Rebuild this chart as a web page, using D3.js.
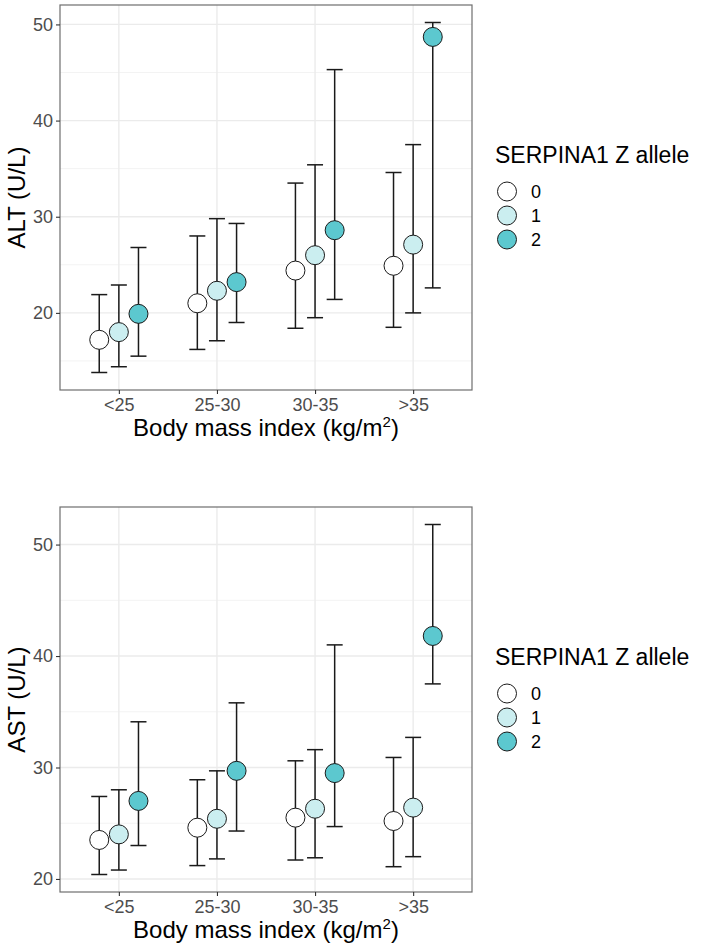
<!DOCTYPE html>
<html>
<head>
<meta charset="utf-8">
<script src="https://cdn.jsdelivr.net/npm/d3@7"></script>
<style>
  html, body { margin: 0; padding: 0; background: #ffffff; }
  svg { display: block; font-family: "Liberation Sans", Arial, Helvetica, sans-serif; }
</style>
</head>
<body>
<svg id="chart" width="709" height="948"></svg>
<script>
// ---- Data ----
const categories = ["<25", "25-30", "30-35", ">35"];
const alleles = ["0", "1", "2"];
const alleleColors = ["#ffffff", "#cbeef0", "#5cc8cf"];

// ALT (U/L): point estimates and interval bounds, by allele (rows) x BMI category (cols)
const altMean  = [[17.2, 21.0, 24.4, 24.9], [18.0, 22.3, 26.0, 27.1], [19.9, 23.2, 28.6, 48.7]];
const altLower = [[13.8, 16.2, 18.4, 18.5], [14.4, 17.1, 19.5, 20.0], [15.5, 19.0, 21.4, 22.6]];
const altUpper = [[21.9, 28.0, 33.5, 34.6], [22.9, 29.8, 35.4, 37.5], [26.8, 29.3, 45.3, 50.2]];

// AST (U/L)
const astMean  = [[23.5, 24.6, 25.5, 25.2], [24.0, 25.4, 26.3, 26.4], [27.0, 29.7, 29.5, 41.8]];
const astLower = [[20.4, 21.2, 21.7, 21.1], [20.8, 21.8, 21.9, 22.0], [23.0, 24.3, 24.7, 37.5]];
const astUpper = [[27.4, 28.9, 30.6, 30.9], [28.0, 29.7, 31.6, 32.7], [34.1, 35.8, 41.0, 51.8]];

const yTicks = [20, 30, 40, 50];
const legendTitle = "SERPINA1 Z allele";

// ---- Drawing ----
const svg = d3.select("#chart");

function flatten(mean, lower, upper) {
  const rows = [];
  alleles.forEach((a, ai) => {
    categories.forEach((c, ci) => {
      rows.push({ allele: a, ai, cat: c, mean: mean[ai][ci], lo: lower[ai][ci], hi: upper[ai][ci] });
    });
  });
  return rows;
}

function drawPanel(opts) {
  const { top, bottom, left, right, mean, lower, upper, yLabel, legendY } = opts;
  const rows = flatten(mean, lower, upper);
  const g = svg.append("g");

  const x = d3.scalePoint().domain(categories).range([left, right]).padding(0.6);
  const step = x.step();
  const dodge = d3.scalePoint().domain(alleles).range([-0.2 * step, 0.2 * step]);

  const lo = d3.min(rows, d => d.lo), hi = d3.max(rows, d => d.hi);
  const pad = (hi - lo) * 0.05;
  const y = d3.scaleLinear().domain([lo - pad, hi + pad]).range([bottom, top]);

  const color = d3.scaleOrdinal().domain(alleles).range(alleleColors);

  // minor grid
  const minor = [];
  for (let v = 15; v <= 55; v += 10) minor.push(v);
  g.append("g").selectAll("line").data(minor.filter(v => y(v) > top && y(v) < bottom)).join("line")
    .attr("x1", left).attr("x2", right)
    .attr("y1", d => y(d)).attr("y2", d => y(d))
    .attr("stroke", "#f3f3f3").attr("stroke-width", 1);
  // major grid
  g.append("g").selectAll("line").data(yTicks).join("line")
    .attr("x1", left).attr("x2", right)
    .attr("y1", d => y(d)).attr("y2", d => y(d))
    .attr("stroke", "#ebebeb").attr("stroke-width", 1.4);
  g.append("g").selectAll("line").data(categories).join("line")
    .attr("y1", top).attr("y2", bottom)
    .attr("x1", d => x(d)).attr("x2", d => x(d))
    .attr("stroke", "#ebebeb").attr("stroke-width", 1.4);

  // error bars
  const capHalf = 8;
  const eb = g.append("g").selectAll("g").data(rows).join("g")
    .attr("transform", d => `translate(${x(d.cat) + dodge(d.allele)},0)`);
  eb.append("line").attr("x1", 0).attr("x2", 0)
    .attr("y1", d => y(d.lo)).attr("y2", d => y(d.hi))
    .attr("stroke", "#1a1a1a").attr("stroke-width", 1.5);
  eb.append("line").attr("x1", -capHalf).attr("x2", capHalf)
    .attr("y1", d => y(d.hi)).attr("y2", d => y(d.hi))
    .attr("stroke", "#1a1a1a").attr("stroke-width", 1.5);
  eb.append("line").attr("x1", -capHalf).attr("x2", capHalf)
    .attr("y1", d => y(d.lo)).attr("y2", d => y(d.lo))
    .attr("stroke", "#1a1a1a").attr("stroke-width", 1.5);

  // points
  g.append("g").selectAll("circle").data(rows).join("circle")
    .attr("cx", d => x(d.cat) + dodge(d.allele))
    .attr("cy", d => y(d.mean))
    .attr("r", 9.5)
    .attr("fill", d => color(d.allele))
    .attr("stroke", "#1a1a1a").attr("stroke-width", 1);

  // panel border
  g.append("rect").attr("x", left).attr("y", top)
    .attr("width", right - left).attr("height", bottom - top)
    .attr("fill", "none").attr("stroke", "#6e6e6e").attr("stroke-width", 1.2);

  // axes
  const yAxis = d3.axisLeft(y).tickValues(yTicks).tickSize(4).tickPadding(3);
  const ya = g.append("g").attr("transform", `translate(${left},0)`).call(yAxis);
  ya.select(".domain").remove();
  ya.selectAll(".tick line").attr("stroke", "#333").attr("stroke-width", 1.1);
  ya.selectAll(".tick text").attr("fill", "#4d4d4d").style("font-size", "18px")
    .style("font-family", "'Liberation Sans', Arial, sans-serif");

  const xAxis = d3.axisBottom(x).tickSize(4).tickPadding(4);
  const xa = g.append("g").attr("transform", `translate(0,${bottom})`).call(xAxis);
  xa.select(".domain").remove();
  xa.selectAll(".tick line").attr("stroke", "#333").attr("stroke-width", 1.1);
  xa.selectAll(".tick text").attr("fill", "#4d4d4d").style("font-size", "18px")
    .style("font-family", "'Liberation Sans', Arial, sans-serif");

  // axis titles
  const xt = g.append("text")
    .attr("x", (left + right) / 2).attr("y", bottom + 46)
    .attr("text-anchor", "middle").attr("fill", "#000").style("font-size", "24px");
  xt.append("tspan").text("Body mass index (kg/m");
  xt.append("tspan").attr("dy", -9).style("font-size", "15px").text("2");
  xt.append("tspan").attr("dy", 9).text(")");

  g.append("text")
    .attr("transform", `translate(${left - 35},${(top + bottom) / 2}) rotate(-90)`)
    .attr("text-anchor", "middle").attr("fill", "#000").style("font-size", "24px")
    .text(yLabel);

  // legend
  const lg = svg.append("g").attr("transform", `translate(495,${legendY})`);
  lg.append("text").attr("x", 0).attr("y", 0).attr("fill", "#000")
    .style("font-size", "23px").text(legendTitle);
  const items = lg.selectAll("g.item").data(alleles).join("g").attr("class", "item")
    .attr("transform", (d, i) => `translate(0,${28.5 + i * 24})`);
  items.append("circle").attr("cx", 12).attr("cy", 0).attr("r", 9.5)
    .attr("fill", d => color(d)).attr("stroke", "#1a1a1a").attr("stroke-width", 1);
  items.append("text").attr("x", 36).attr("y", 0).attr("dy", "0.35em")
    .attr("fill", "#000").style("font-size", "18px").text(d => d);
}

drawPanel({ top: 5, bottom: 390, left: 60, right: 472,
  mean: altMean, lower: altLower, upper: altUpper, yLabel: "ALT (U/L)", legendY: 163 });
drawPanel({ top: 507, bottom: 892, left: 60, right: 472,
  mean: astMean, lower: astLower, upper: astUpper, yLabel: "AST (U/L)", legendY: 665 });
</script>
</body>
</html>
